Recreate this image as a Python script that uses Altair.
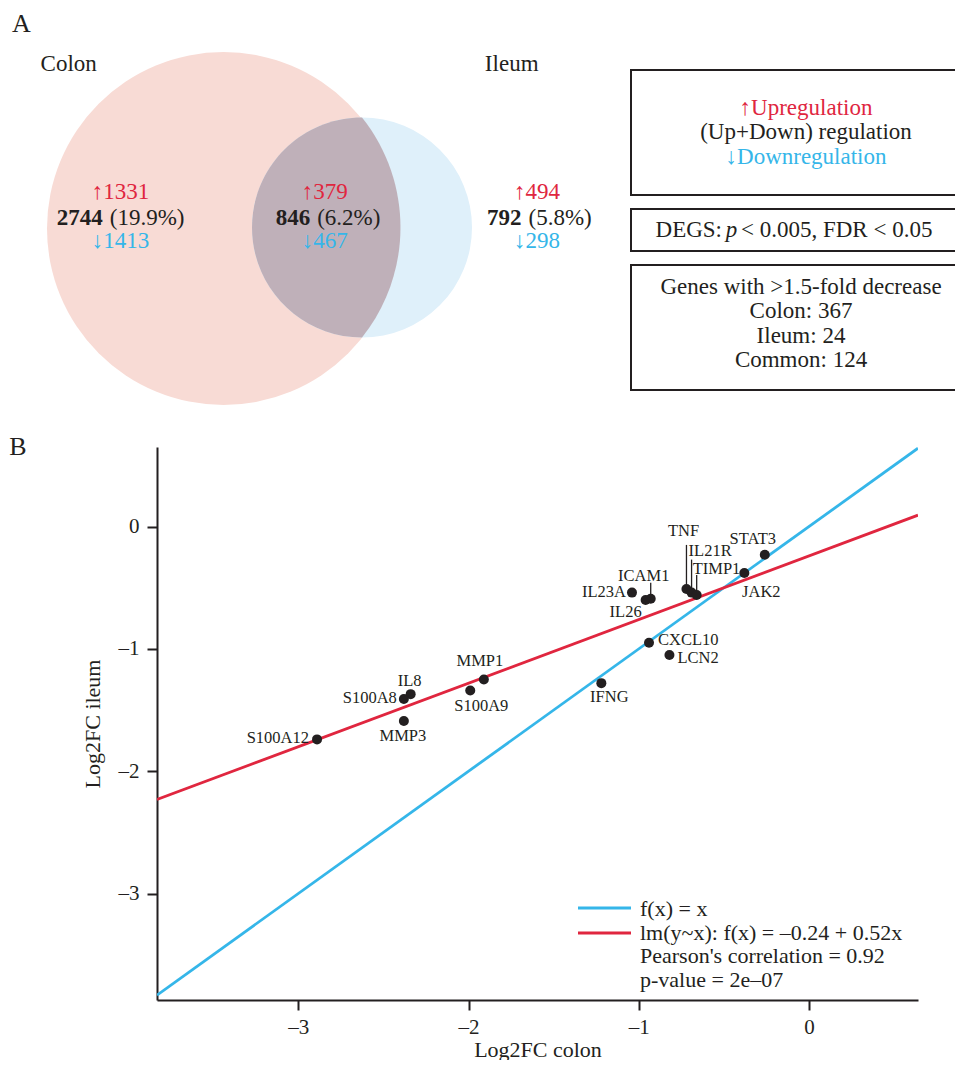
import altair as alt
import pandas as pd

# ---------------- Panel A: Venn diagram data ----------------
set_names = ["Colon", "Ileum"]
region_up = [1331, 379, 494]          # colon only, common, ileum only
region_total = [2744, 846, 792]
region_pct = ["19.9%", "6.2%", "5.8%"]
region_down = [1413, 467, 298]

key_lines = ["↑Upregulation", "(Up+Down) regulation", "↓Downregulation"]
degs_p = "0.005"
degs_fdr = "0.05"
decrease_title = "Genes with >1.5-fold decrease"
decrease_groups = ["Colon", "Ileum", "Common"]
decrease_counts = [367, 24, 124]

# ---------------- Panel B: scatter data ----------------
genes = ["STAT3", "JAK2", "TNF", "IL21R", "TIMP1", "ICAM1", "IL26", "IL23A",
         "CXCL10", "LCN2", "IFNG", "MMP1", "S100A9", "IL8", "S100A8", "MMP3", "S100A12"]
log2fc_colon = [-0.26, -0.38, -0.72, -0.69, -0.66, -0.93, -0.96, -1.04,
                -0.94, -0.82, -1.22, -1.91, -1.99, -2.34, -2.38, -2.38, -2.89]
log2fc_ileum = [-0.23, -0.38, -0.51, -0.54, -0.56, -0.59, -0.60, -0.54,
                -0.95, -1.05, -1.28, -1.25, -1.34, -1.37, -1.41, -1.59, -1.74]
x_ticks = [-3, -2, -1, 0]
y_ticks = [0, -1, -2, -3]
x_range = [-3.83, 0.64]
y_range = [-3.87, 0.65]
fit_intercept = -0.24
fit_slope = 0.52
pearson_r = 0.92
p_value = "2e–07"

# ---------------- styles / layout ----------------
RED = "#e0263f"
BLUE = "#35b6e9"
INK = "#231f20"
PINK = "#f8dbd5"
SKY = "#dff0fa"
MAUVE = "#bfb0b9"
FONT = "Liberation Serif"

OX, OY = 157, 447      # page position of panel B plot origin
W, H = 761, 553        # panel B plot size
SVG_W, SVG_H = 947, 1052


def place(rows, kind, mark_kw, **enc):
    df = pd.DataFrame(rows)
    for c in ("x", "x2"):
        if c in df:
            df[c] = df[c] - OX
    for c in ("y", "y2"):
        if c in df:
            df[c] = df[c] - OY
    e = dict(x=alt.X("x:Q", scale=None, axis=None),
             y=alt.Y("y:Q", scale=None, axis=None))
    e.update(enc)
    return getattr(alt.Chart(df), "mark_" + kind)(**mark_kw).encode(**e)


def texts(rows, **mark_kw):
    kw = dict(font=FONT, fontSize=23, color=INK, baseline="middle", align="center")
    kw.update(mark_kw)
    return place(rows, "text", kw, text="t:N")


a_layers = []

# Venn circles and overlap lens
a_layers.append(place([{"x": 223.5, "y": 228.5}], "point",
                      dict(shape="circle", filled=True, size=353 ** 2, color=PINK,
                           opacity=1, strokeWidth=0)))
a_layers.append(place([{"x": 362, "y": 227.5}], "point",
                      dict(shape="circle", filled=True, size=220 ** 2, color=SKY,
                           opacity=1, strokeWidth=0)))
LENS = "M 0 -110 A 110 110 0 0 0 0 110 A 176.5 176.5 0 0 0 0 -110 Z"
a_layers.append(place([{"x": 362, "y": 227.5}], "point",
                      dict(shape=LENS, filled=True, size=4, color=MAUVE,
                           opacity=1, strokeWidth=0)))

# panel letters and set names
a_layers.append(texts([{"x": 21.5, "y": 23.5, "t": "A"}, {"x": 18, "y": 447, "t": "B"}],
                      fontSize=26))
a_layers.append(texts([{"x": 68.7, "y": 64, "t": set_names[0]},
                       {"x": 511.7, "y": 64, "t": set_names[1]}]))

# Venn region numbers
cx = [120.5, 324.7, 537]
split = [106.3, 313.7, 525]
a_layers.append(texts([{"x": cx[i], "y": 191.7, "t": f"↑{region_up[i]}"} for i in range(3)],
                      color=RED))
a_layers.append(texts([{"x": cx[i], "y": 240.7, "t": f"↓{region_down[i]}"} for i in range(3)],
                      color=BLUE))
a_layers.append(texts([{"x": split[i] - 3.5, "y": 217.7, "t": str(region_total[i])} for i in range(3)],
                      align="right", fontWeight="bold"))
a_layers.append(texts([{"x": split[i] + 3.5, "y": 217.7, "t": f"({region_pct[i]})"} for i in range(3)],
                      align="left"))

# Boxes on the right (open on the right, like the reference)
a_layers.append(place([{"x": 631, "x2": 975, "y": 70, "y2": 195},
                       {"x": 631, "x2": 975, "y": 209, "y2": 251},
                       {"x": 631, "x2": 975, "y": 265, "y2": 390}], "rect",
                      dict(fillOpacity=0, stroke=INK, strokeWidth=2),
                      x2=alt.X2("x2:Q"), y2=alt.Y2("y2:Q")))
a_layers.append(texts([{"x": 806, "y": 108, "t": key_lines[0]}], color=RED))
a_layers.append(texts([{"x": 806, "y": 131.7, "t": key_lines[1]}]))
a_layers.append(texts([{"x": 806, "y": 156.7, "t": key_lines[2]}], color=BLUE))
a_layers.append(texts([{"x": 722, "y": 230, "t": "DEGS:"}], align="right"))
a_layers.append(texts([{"x": 731.5, "y": 230, "t": "p"}], fontStyle="italic"))
a_layers.append(texts([{"x": 741, "y": 230, "t": f"< {degs_p}, FDR < {degs_fdr}"}], align="left"))
box3 = [decrease_title] + [f"{g}: {c}" for g, c in zip(decrease_groups, decrease_counts)]
a_layers.append(texts([{"x": 801, "y": 286.5 + 24.5 * i, "t": s} for i, s in enumerate(box3)]))

# Panel B legend
a_layers.append(place([{"x": 578, "x2": 631, "y": 908}], "rule",
                      dict(color=BLUE, strokeWidth=3), x2=alt.X2("x2:Q")))
a_layers.append(place([{"x": 578, "x2": 631, "y": 933}], "rule",
                      dict(color=RED, strokeWidth=3), x2=alt.X2("x2:Q")))
leg_txt = ["f(x) = x",
           f"lm(y~x): f(x) = –{abs(fit_intercept):.2f} + {fit_slope:.2f}x",
           f"Pearson's correlation = {pearson_r}",
           f"p-value = {p_value}"]
a_layers.append(texts([{"x": 640, "y": 909 + 23.7 * i, "t": s} for i, s in enumerate(leg_txt)],
                      align="left", fontSize=22))

# ---------------- Panel B: scatter ----------------
sc = pd.DataFrame({"gene": genes, "colon": log2fc_colon, "ileum": log2fc_ileum})
xs = alt.Scale(domain=x_range, nice=False, zero=False)
ys = alt.Scale(domain=y_range, nice=False, zero=False)
axis_style = dict(grid=False, domainColor=INK, domainWidth=2, tickColor=INK, tickWidth=2,
                  tickSize=10, labelFont=FONT, labelFontSize=21, labelColor=INK,
                  titleFont=FONT, titleFontSize=22, titleColor=INK, titleFontWeight="normal",
                  format="d", labelExpr="replace(datum.label, '−', '–')")
xax = alt.Axis(values=x_ticks, title="Log2FC colon", labelPadding=6,
               titleY=56, titleBaseline="alphabetic", **axis_style)
yax = alt.Axis(values=y_ticks, title="Log2FC ileum", labelPadding=8, titlePadding=14, **axis_style)

line_df = pd.DataFrame({"colon": x_range})
ident = alt.Chart(line_df).transform_calculate(ileum="datum.colon").mark_line(
    color=BLUE, strokeWidth=2.8, clip=True).encode(
    x=alt.X("colon:Q", scale=xs, axis=xax), y=alt.Y("ileum:Q", scale=ys, axis=yax))
fit = alt.Chart(line_df).transform_calculate(
    ileum=f"{fit_intercept} + {fit_slope} * datum.colon").mark_line(
    color=RED, strokeWidth=2.8, clip=True).encode(
    x=alt.X("colon:Q", scale=xs), y=alt.Y("ileum:Q", scale=ys))

b_layers = [ident, fit]

connectors = {"TNF": 44, "IL21R": 33, "TIMP1": 20, "ICAM1": 16}
for g, L in connectors.items():
    b_layers.append(alt.Chart(sc).transform_filter(alt.datum.gene == g).mark_rule(
        color=INK, strokeWidth=1.3, y2Offset=-L).encode(
        x=alt.X("colon:Q", scale=xs), y=alt.Y("ileum:Q", scale=ys), y2=alt.Y2("ileum:Q")))

b_layers.append(alt.Chart(sc).mark_circle(size=100, color=INK, opacity=1).encode(
    x=alt.X("colon:Q", scale=xs), y=alt.Y("ileum:Q", scale=ys)))

label_pos = {
    "STAT3": (-12, -16, "center"), "JAK2": (17, 19, "center"),
    "TNF": (-3, -58, "center"), "IL21R": (-3, -42, "left"), "TIMP1": (-4, -26, "left"),
    "ICAM1": (-7, -23, "center"), "IL23A": (-6, -1, "right"), "IL26": (-20, 12, "center"),
    "CXCL10": (9, -3, "left"), "LCN2": (8, 3, "left"), "IFNG": (8, 14, "center"),
    "MMP1": (-4, -18, "center"), "S100A9": (11, 16, "center"), "IL8": (-1, -13, "center"),
    "S100A8": (-7, -1, "right"), "MMP3": (-1, 15, "center"), "S100A12": (-8, -1, "right"),
}
for g, (dx, dy, al) in label_pos.items():
    b_layers.append(alt.Chart(sc).transform_filter(alt.datum.gene == g).mark_text(
        font=FONT, fontSize=16.5, color=INK, dx=dx, dy=dy, align=al, baseline="middle").encode(
        x=alt.X("colon:Q", scale=xs), y=alt.Y("ileum:Q", scale=ys), text="gene:N"))

panel_b = alt.layer(*b_layers)

chart = alt.layer(*a_layers, panel_b).resolve_scale(
    x="independent", y="independent").properties(
    width=W, height=H,
    autosize=alt.AutoSizeParams(type="none"),
    padding={"left": OX - 8, "top": OY - 8,
             "right": SVG_W - (OX - 8) - W, "bottom": SVG_H - (OY - 8) - H},
).configure(font=FONT).configure_view(stroke=None)

chart.save("out.html", embed_options={"renderer": "svg", "actions": False})
